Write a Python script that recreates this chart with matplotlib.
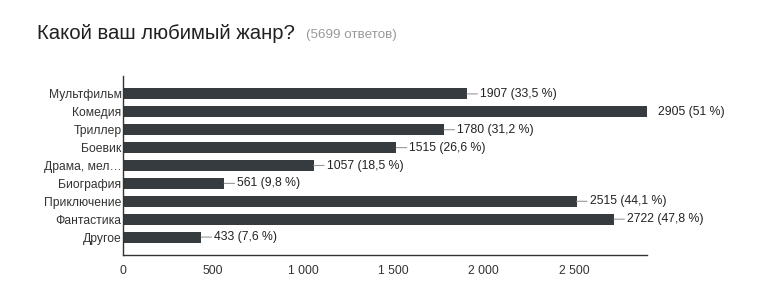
import matplotlib
matplotlib.use("Agg")
from matplotlib import pyplot as plt

plt.rcParams['font.family'] = ['Liberation Sans', 'DejaVu Sans']

genres = ["Мультфильм", "Комедия", "Триллер", "Боевик", "Драма, мел…",
          "Биография", "Приключение", "Фантастика", "Другое"]
counts = [1907, 2905, 1780, 1515, 1057, 561, 2515, 2722, 433]
percents = ["33,5", "51", "31,2", "26,6", "18,5", "9,8", "44,1", "47,8", "7,6"]
xticks = [0, 500, 1000, 1500, 2000, 2500]
xtick_labels = ["0", "500", "1 000", "1 500", "2 000", "2 500"]

W, H = 758, 287
fig = plt.figure(figsize=(W / 100, H / 100), dpi=100)
ax = fig.add_axes([123 / W, 1 - 255 / H, (647 - 123) / W, (255 - 76) / H])

bar_color = "#353b3e"
ax.barh(range(len(genres)), counts, height=0.62, color=bar_color)
ax.set_ylim(len(genres), -1)
ax.set_xlim(0, max(counts))

ax.set_yticks(range(len(genres)))
ax.set_yticklabels(genres, fontsize=8.7, color="#333333")
ax.set_xticks(xticks)
ax.set_xticklabels(xtick_labels, fontsize=8.8, color="#333333")
ax.tick_params(axis="both", length=0)
ax.tick_params(axis="y", pad=1)
ax.tick_params(axis="x", pad=7)

for s in ["top", "right"]:
    ax.spines[s].set_visible(False)
for s in ["left", "bottom"]:
    ax.spines[s].set_color("#333333")
    ax.spines[s].set_linewidth(1.0)

xmax = max(counts)
for i, (c, p) in enumerate(zip(counts, percents)):
    label = "{} ({} %)".format(c, p)
    if c == xmax:
        ax.annotate(label, xy=(c, i), xytext=(8, 0), textcoords="offset points",
                    va="center", ha="left", fontsize=8.8, color="#222222",
                    annotation_clip=False)
    else:
        ax.annotate(label, xy=(c, i), xytext=(9.5, 0), textcoords="offset points",
                    va="center", ha="left", fontsize=8.8, color="#222222",
                    arrowprops=dict(arrowstyle="-", color="#999999", lw=0.8,
                                    shrinkA=0, shrinkB=0),
                    annotation_clip=False)

fig.text(37 / W, 1 - 39 / H, "Какой ваш любимый жанр?", fontsize=14.6,
         color="#212121", va="baseline", ha="left")
fig.text(306 / W, 1 - 38 / H, "(5699 ответов)", fontsize=9.6,
         color="#999999", va="baseline", ha="left")

fig.savefig("out.png", dpi=100)
